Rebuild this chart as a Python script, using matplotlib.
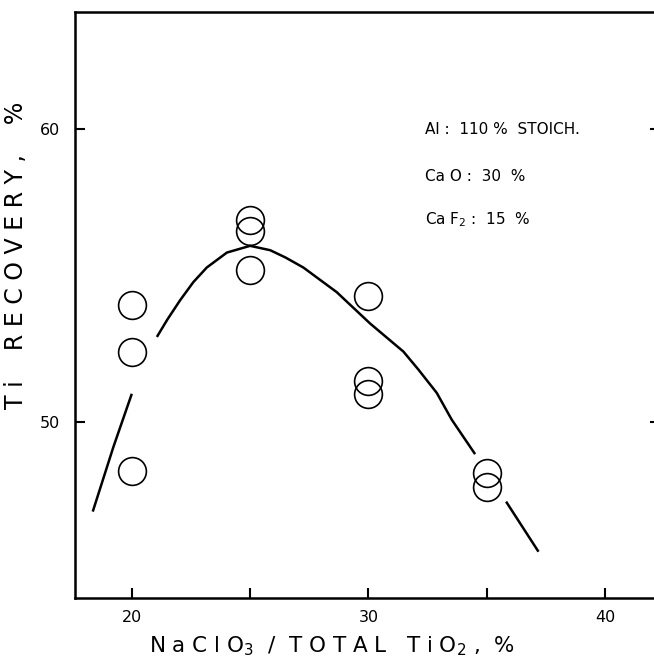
import matplotlib
matplotlib.use("Agg")
import matplotlib.pyplot as plt

#Measured points (NaClO3 / total TiO2 %, Ti recovery %)
x_pts = [20, 20, 20, 25, 25, 25, 30, 30, 30, 35, 35]
y_pts = [53.99, 52.38, 48.34, 56.90, 56.53, 55.18, 54.30, 51.41, 50.97, 48.25, 47.78]

curve1_x = [18.35, 19.22, 20.0]
curve1_y = [46.95, 49.15, 50.97]
curve2_x = [21.06, 21.5, 22.04, 22.6, 23.17, 24.02, 25.0, 25.85, 26.5, 27.25,
            28.66, 30.07, 31.48, 32.11, 32.89, 33.52, 34.51]
curve2_y = [52.91, 53.50, 54.16, 54.78, 55.28, 55.79, 56.02, 55.87, 55.62, 55.28,
            54.44, 53.37, 52.41, 51.80, 51.0, 50.09, 48.91]
curve3_x = [35.82, 37.19]
curve3_y = [47.29, 45.58]

#Conditions
notes = ["Al :  110 %  STOICH.", "Ca O :  30  %", "Ca F$_2$ :  15  %"]
notes_y = [60.0, 58.4, 56.93]

fig = plt.figure(figsize=(6.54, 6.64), dpi=100)
ax = fig.add_axes([0.1147, 0.0994, 0.895, 0.8825])

for cx, cy in [(curve1_x, curve1_y), (curve2_x, curve2_y), (curve3_x, curve3_y)]:
    ax.plot(cx, cy, color="black", linewidth=1.8, solid_capstyle="butt")

ax.plot(x_pts, y_pts, linestyle="none", marker="o", markersize=20,
        markerfacecolor="none", markeredgecolor="black", markeredgewidth=1.2)

ax.set_xlim(17.6, 42.34)
ax.set_ylim(44, 64)
ax.set_xticks([20, 25, 30, 35, 40])
ax.set_xticklabels(["20", "", "30", "", "40"])
ax.set_yticks([50, 60])
ax.tick_params(axis="both", direction="in", length=7, width=1.5, labelsize=11.5)
ax.tick_params(axis="x", pad=9)
ax.tick_params(axis="y", right=True, pad=11)
for s in ax.spines.values():
    s.set_linewidth(1.8)

ax.set_xlabel("N a C l O$_3$  /  T O T A L   T i O$_2$ ,  %", fontsize=15.5)
ax.xaxis.set_label_coords(0.439, -0.062)
ax.set_ylabel("T i    R E C O V E R Y ,    %", fontsize=17)
ax.yaxis.set_label_coords(-0.08, 0.585)

for t, ty in zip(notes, notes_y):
    ax.text(32.4, ty, t, fontsize=11, va="center", ha="left")

plt.savefig("out.png", dpi=100)
plt.close()
